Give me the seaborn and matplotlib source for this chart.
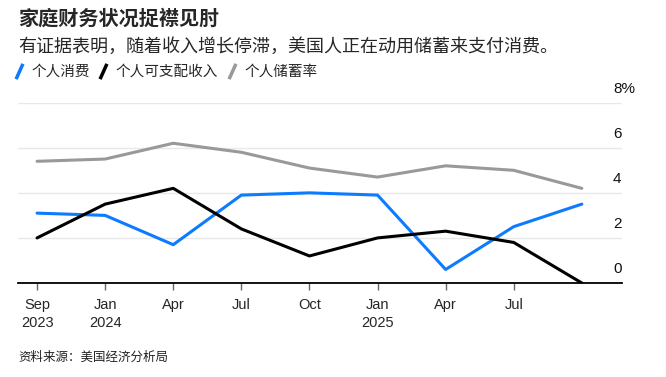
import numpy as np
import pandas as pd
import matplotlib as mpl
import matplotlib.pyplot as plt
import seaborn as sns
from matplotlib.lines import Line2D
from matplotlib.path import Path
from matplotlib import transforms

# データ（四半期ごと、%）
periods = ['2023Q3', '2023Q4', '2024Q1', '2024Q2', '2024Q3',
           '2024Q4', '2025Q1', '2025Q2', '2025Q3']
spending = [3.1, 3.0, 1.7, 3.9, 4.0, 3.9, 0.6, 2.5, 3.5]
income = [2.0, 3.5, 4.2, 2.4, 1.2, 2.0, 2.3, 1.8, 0.0]
saving_rate = [5.4, 5.5, 6.2, 5.8, 5.1, 4.7, 5.2, 5.0, 4.2]

series_names = ['个人消费', '个人可支配收入', '个人储蓄率']
colors = ['#0D7BFF', '#000000', '#999999']

tick_pos = [0, 1, 2, 3, 4, 5, 6, 7]
tick_labels = ['Sep\n2023', 'Jan\n2024', 'Apr', 'Jul', 'Oct', 'Jan\n2025', 'Apr', 'Jul']
y_ticks = [0, 2, 4, 6, 8]
y_labels = ['0', '2', '4', '6', '8%']

# %%
df = pd.DataFrame({
    'idx': list(range(len(periods))) * 3,
    'value': spending + income + saving_rate,
    'series': [s for s in series_names for _ in periods],
})

sns.set_style('white')
plt.rcParams['font.family'] = ['Noto Sans CJK SC', 'DejaVu Sans']
cjk = ['Noto Sans CJK SC', 'DejaVu Sans']
latin = ['Liberation Sans', 'DejaVu Sans']

fig = plt.figure(figsize=(6.66, 3.77), dpi=100)
ax = fig.add_axes([18 / 666, 1 - 283 / 377, (622 - 18) / 666, (283 - 102.7) / 377])

sns.lineplot(data=df, x='idx', y='value', hue='series', hue_order=series_names,
             palette=colors, linewidth=2.2, legend=False, ax=ax, zorder=3)

ax.set_xlim(-0.28, 8.59)
ax.set_ylim(0, 8)
ax.set_xlabel('')
ax.set_ylabel('')

# グリッド
ax.set_yticks(y_ticks)
ax.yaxis.grid(True, color='#e8e8e8', linewidth=1)
ax.tick_params(axis='y', left=False, labelleft=False)
ax.set_axisbelow(True)

offset = transforms.offset_copy(ax.get_yaxis_transform(), fig=fig, x=0, y=5, units='points')
for v, lab in zip(y_ticks, y_labels):
    ax.text(0.985, v, lab, transform=offset, ha='left', va='bottom',
            fontsize=11, family=latin, color='#111111', clip_on=False)

# x軸
ax.set_xticks(tick_pos)
ax.set_xticklabels(tick_labels, family=latin, fontsize=10.5, linespacing=1.35)
ax.tick_params(axis='x', bottom=True, length=5, width=1, color='#666666', pad=6)

for side in ['top', 'right', 'left']:
    ax.spines[side].set_visible(False)
ax.spines['bottom'].set_color('#000000')
ax.spines['bottom'].set_linewidth(1.3)
ax.spines['bottom'].set_zorder(4)

# タイトル
fig.text(18 / 666, 1 - 18 / 377, '家庭财务状况捉襟见肘', family=cjk, fontsize=14.5,
         fontweight='bold', ha='left', va='center')
fig.text(18 / 666, 1 - 47 / 377, '有证据表明，随着收入增长停滞，美国人正在动用储蓄来支付消费。',
         family=cjk, fontsize=13, ha='left', va='center')
fig.text(18 / 666, 1 - 357 / 377, '资料来源：美国经济分析局', family=cjk, fontsize=9,
         ha='left', va='center', color='#222222')

# 凡例
slash = Path([(-0.45, -1), (0.45, 1)], [Path.MOVETO, Path.LINETO])
handles = [Line2D([], [], marker=slash, linestyle='none', markersize=11,
                  markeredgewidth=2.5, markeredgecolor=c) for c in colors]
leg = fig.legend(handles, series_names, loc='center left',
                 bbox_to_anchor=(12 / 666, 1 - 72 / 377), ncol=3, frameon=False,
                 handlelength=0.9, handletextpad=0.4, columnspacing=0.5,
                 prop={'family': cjk, 'size': 10.5}, borderaxespad=0, borderpad=0)

fig.savefig('out.png', dpi=100)
